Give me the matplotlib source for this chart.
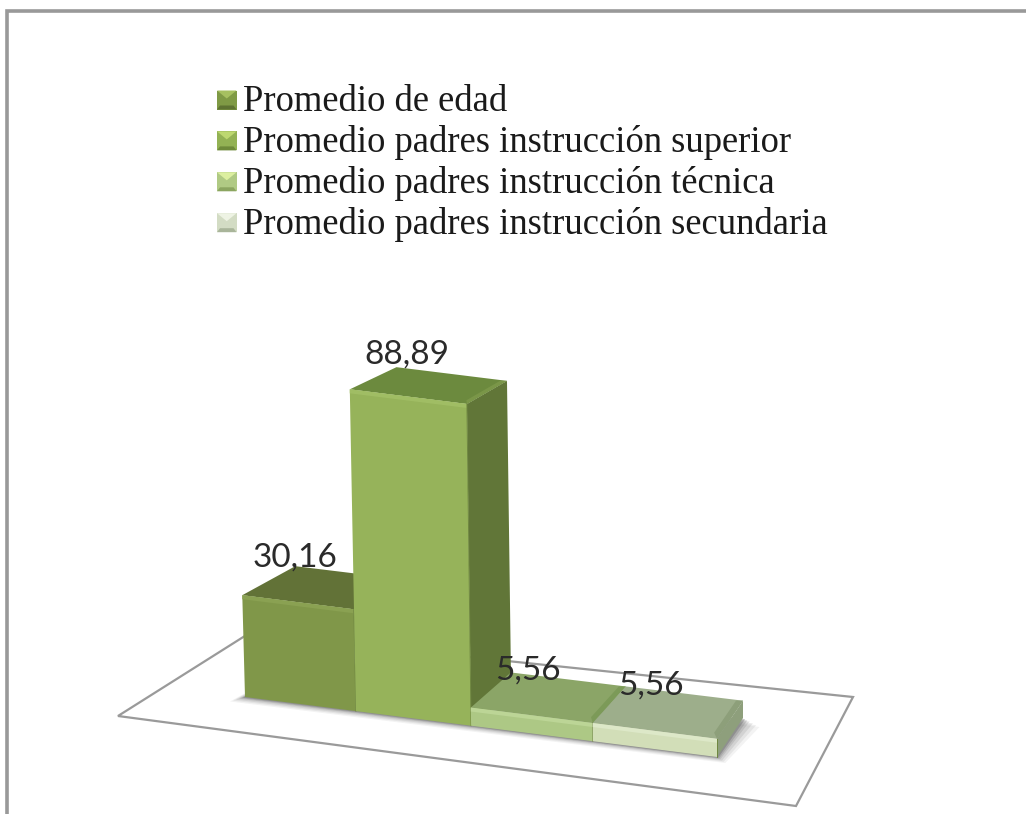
import numpy as np
import matplotlib
matplotlib.use("Agg")
import matplotlib.pyplot as plt
from matplotlib.patches import Polygon

# ---- data ----
categories = ["Promedio de edad",
              "Promedio padres instrucción superior",
              "Promedio padres instrucción técnica",
              "Promedio padres instrucción secundaria"]
values = [30.16, 88.89, 5.56, 5.56]
value_labels = ["30,16", "88,89", "5,56", "5,56"]

# ---- styles ----
FRONT = ["#809749", "#96b35a", "#adc885", "#d2deb8"]
FRONT_HI = ["#8aa152", "#a0bd64", "#bcd596", "#dde8c8"]
TOP = ["#627237", "#6c8a3e", "#8ba567", "#9dae8b"]
TOP_EDGE = ["#6a7b3c", "#7a9648", "#7c9a58", "#8d9f7a"]
SIDE = ["#566632", "#617638", "#7b9556", "#8e9f7c"]
LEG_MID = ["#7f9a45", "#93b254", "#b0ca84", "#d3dcc4"]
LEG_TOP = ["#a6c060", "#bdd870", "#dcefa0", "#eef3e4"]
LEG_BOT = ["#5e7332", "#6e8a3a", "#8ba560", "#a9b59a"]
LABEL_DX = [-53, -45, -40, -33]
LABEL_DY = [-9, -13, -2, -1]

W, H = 1026, 814
fig = plt.figure(figsize=(W / 100, H / 100), dpi=100, facecolor="white")
ax = fig.add_axes([0, 0, 1, 1])
ax.set_xlim(0, W)
ax.set_ylim(H, 0)
ax.axis("off")

# ---- frame ----
ax.plot([6.5, 6.5, W], [H, 10.8, 10.8], color="#999999", lw=2.6, solid_joinstyle="miter", zorder=1)

# ---- floor ----
floor = np.array([[118, 716], [796, 806], [853, 697], [248, 634]])
ax.add_patch(Polygon(floor, closed=True, fc="white", ec="#9a9a9a", lw=1.6, zorder=2))

# ---- projection of the bar block ----
F0, F1 = np.array([245., 697.]), np.array([717., 757.])
B0, B1 = np.array([298., 664.]), np.array([743., 718.])
EDGES = [0, .235, .479, .737, 1.0]


def proj(u, v, h=0.0):
    front = F0 + u * (F1 - F0)
    back = B0 + u * (B1 - B0)
    p = front + v * (back - front) * np.array([1.0, 1.0 - 0.004 * h])
    p = p + np.array([-0.09 * h * (1 - u), -3.25 * h * (1 + 0.00128 * h)])
    return p


def poly(pts, fc, z, **kw):
    ax.add_patch(Polygon(np.array(pts), closed=True, fc=fc, ec=kw.pop("ec", "none"), lw=kw.pop("lw", 0), zorder=z, **kw))


# soft shadow under the block
foot = np.array([proj(0, 0), proj(1, 0), proj(1, 1), proj(0, 1)])
for grow, a in zip([15, 12, 9, 6, 4, 2], [.07, .09, .12, .15, .2, .3]):
    s = foot + np.array([[-grow, grow * .3], [grow * .55, grow * .4], [grow * 1.1, grow * .6], [0, 0]])
    poly(s, "#555555", 3, alpha=a)

# ---- bars, left to right ----
for i, val in enumerate(values):
    u0, u1 = EDGES[i], EDGES[i + 1]
    z = 4 + i
    fl, fr = proj(u0, 0), proj(u1, 0)
    tfl, tfr, tbl, tbr = proj(u0, 0, val), proj(u1, 0, val), proj(u0, 1, val), proj(u1, 1, val)
    bbr = proj(u1, 1)
    poly([tfr, tbr, bbr, fr], SIDE[i], z)
    poly([tfl, tfr, tbr, tbl], TOP[i], z)
    poly([fl, fr, tfr, tfl], FRONT[i], z)
    # bevels
    d = np.array([0, 4.0])
    poly([tfl, tfr, tfr + d, tfl + d], FRONT_HI[i], z)
    rb = (tbr - tfr) * 0.16
    poly([tfr, tbr, tbr + np.array([-7, 0]), tfr + rb + np.array([-7, 0])], TOP_EDGE[i], z)
    ax.plot([fr[0], tfr[0]], [fr[1], tfr[1]], color="#6f8740", lw=.7, zorder=z)
    # data label
    lx = (tbl[0] + tbr[0]) / 2 + LABEL_DX[i]
    ly = min(tbl[1], tbr[1]) + LABEL_DY[i]
    ax.text(lx, ly, value_labels[i], family="Lato", fontsize=24, color="#2a2a2a",
            ha="center", va="center", zorder=12)

# ---- legend ----
for i, name in enumerate(categories):
    yc = 100 + i * 40.9
    x0, x1, y0, y1 = 217, 236.5, yc - 9.5, yc + 9.5
    ins = 6
    poly([(x0, y0), (x1, y0), (x1, y1), (x0, y1)], LEG_MID[i], 3)
    poly([(x0, y0), (x1, y0), ((x0 + x1) / 2, y0 + ins + 2)], LEG_TOP[i], 3)
    poly([(x0, y1), (x1, y1), (x1 - 3, y1 - 4), (x0 + 3, y1 - 4)], LEG_BOT[i], 3)
    ax.text(243, yc + 2, name, family="Liberation Serif", fontsize=26.4, color="#1a1a1a",
            ha="left", va="center", zorder=12)

fig.savefig("out.png", dpi=100)
